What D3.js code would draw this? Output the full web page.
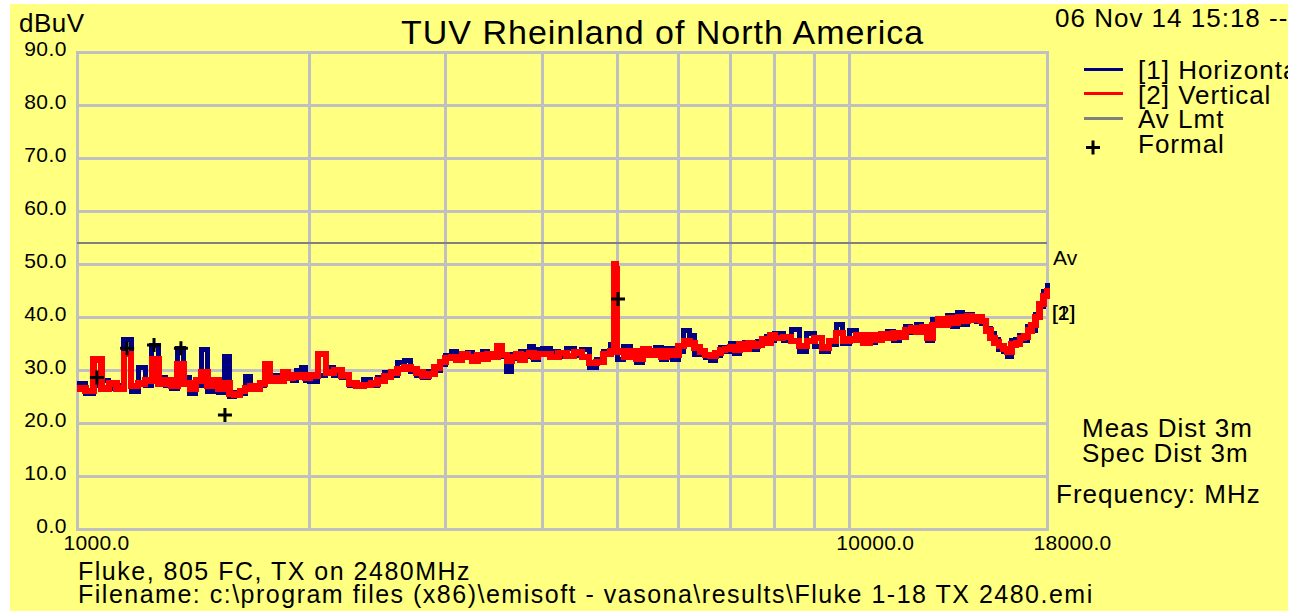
<!DOCTYPE html>
<html>
<head>
<meta charset="utf-8">
<script src="https://cdn.jsdelivr.net/npm/d3@7"></script>
<style>
  body { margin: 0; background: #fff; }
  svg { display: block; font-family: "Liberation Sans", Arial, sans-serif; }
</style>
</head>
<body>
<svg id="chart" width="1299" height="611"></svg>
<script>
// DATA
const freqMHz = [
  1000, 1025, 1050, 1075, 1100, 1125, 1150, 1175, 1200, 1225, 1250, 1275, 1300, 1325, 1350, 1375, 1400, 1425, 1450, 1475,
  1500, 1525, 1550, 1575, 1600, 1625, 1650, 1675, 1700, 1725, 1750, 1775, 1800, 1825, 1850, 1875, 1900, 1925, 1950, 1975,
  2000, 2050, 2100, 2150, 2200, 2250, 2300, 2350, 2400, 2450, 2500, 2550, 2600, 2650, 2700, 2750, 2800, 2850, 2900, 2950,
  3000, 3050, 3100, 3150, 3200, 3250, 3300, 3350, 3400, 3450, 3500, 3550, 3600, 3650, 3700, 3750, 3800, 3850, 3900, 3950,
  4000, 4100, 4200, 4300, 4400, 4500, 4600, 4700, 4800, 4900, 4950, 4980,
  5000, 5100, 5200, 5300, 5400, 5500, 5600, 5700, 5800, 5900, 6000, 6100, 6200, 6300, 6400, 6500, 6600, 6700, 6800, 6900,
  7000, 7100, 7200, 7300, 7400, 7500, 7600, 7700, 7800, 7900,
  8000, 8200, 8400, 8600, 8800, 9000, 9200, 9400, 9600, 9800, 10000, 10200, 10400, 10600, 10800, 11000, 11200, 11400, 11600, 11800,
  12000, 12200, 12400, 12600, 12800, 13000, 13200, 13400, 13600, 13800, 14000, 14200, 14400, 14600, 14800, 15000, 15200, 15400, 15600, 15800,
  16000, 16200, 16400, 16600, 16800, 17000, 17200, 17400, 17600, 17800, 18000,
];

// [1] Horizontal, dBuV
const horizontal = [
  27.5, 25.5, 27, 28, 26.5, 27, 35.8, 26, 30.4, 27, 34.7, 28.5, 27, 26.5, 34, 28.5, 25.5, 27, 33.8, 26,
  27.5, 25.8, 32.6, 25, 25.8, 25.5, 28.7, 26.5, 27, 27, 28, 28.5, 29, 28.8, 28.5, 29.2, 28, 30, 30.4, 28,
  27.8, 29, 30.5, 29, 28.5, 27, 26.8, 28.2, 27, 28.5, 29.5, 29, 31.5, 31.8, 29.8, 29, 28.5, 29.8, 30, 31,
  32.8, 33.5, 31.8, 32.5, 33.3, 32, 32.3, 33.5, 32.5, 33.2, 32.8, 32.5, 29.8, 33, 32.2, 33.5, 32.5, 34.5, 32, 33.8,
  34, 33.5, 32.5, 34, 32.8, 33.8, 30.5, 32, 33.5, 34.8, 46, 47,
  32, 34.5, 32.5, 31.5, 33, 33.6, 34.2, 32, 34, 32, 33.5, 37.5, 36.5, 33, 33.2, 32.3, 31.8, 32.8, 34.3, 33.5,
  35, 33.2, 34.3, 35.2, 34.5, 33.8, 35.3, 35, 36.3, 35.5,
  36.8, 35.5, 37.6, 33.5, 36.8, 34.5, 33.5, 34.8, 38.5, 35, 37.5, 35.5, 36, 35.2, 36.2, 36, 37.2, 35.5, 36.8, 38.2,
  37, 38.5, 37.5, 35.5, 39.5, 39, 39, 40.2, 38.3, 40.8, 38.5, 40.5, 40, 39.2, 38.8, 37.8, 36.8, 35.8, 33.8, 33.5,
  32.5, 35.5, 35.8, 36.5, 35.5, 38.2, 37.5, 40.5, 42, 44.8, 46.5,
];

// [2] Vertical, dBuV
const vertical = [
  26.5, 26, 32, 26.5, 27.5, 26.5, 33, 27, 27.5, 28, 32, 27.5, 28, 27, 31, 27.5, 26.5, 28, 29.5, 27,
  28, 26.5, 27.5, 25.5, 25.3, 26, 26.5, 27, 26.5, 27.5, 31, 28, 28.5, 28, 29.5, 28.5, 29, 28.8, 29, 28.5,
  29, 33, 29.5, 30, 29, 27.5, 27, 27.2, 27.5, 28, 28.8, 29.5, 30.2, 30.5, 30.2, 29.5, 29, 29.2, 30.5, 31.5,
  32.3, 32.5, 32, 33, 32.5, 31.8, 32.8, 32.2, 33, 32.5, 34.5, 32.8, 31.8, 32.5, 33, 32, 32.8, 33.2, 32.5, 33,
  33, 32.5, 33.2, 32.6, 33.3, 32.5, 31.3, 31.5, 33, 33.5, 50, 49,
  33.5, 32.5, 33.5, 32.2, 34, 32.8, 33.6, 32.5, 33.5, 32.8, 34.5, 35.5, 35, 34.2, 33.5, 32.8, 32.6, 33.2, 33.8, 34,
  34.2, 33.8, 34.8, 34, 35, 34.5, 34.8, 35.8, 35.2, 36.5,
  36, 36.2, 35.5, 34.5, 35.5, 36, 34.2, 35.5, 37, 35.5, 35.8, 36.5, 35.2, 36.5, 35.8, 36.8, 36, 37, 36.3, 37.5,
  37.8, 37.2, 38, 36, 38.5, 39.5, 38.5, 39.8, 39, 40, 39.2, 40.2, 39.5, 40, 39.2, 37.5, 36, 35.2, 34.5, 34,
  33.5, 34.8, 35, 36, 36.3, 37.5, 38.5, 40, 42.5, 44, 45.5,
];

const avLimit = 54;
const formalFreq = [1061, 1161, 1258, 1363, 1554, 5013];
const formalLevel = [28.6, 34.1, 34.7, 34.1, 21.5, 43.4];

const yTicks = [0, 10, 20, 30, 40, 50, 60, 70, 80, 90];
const xTickLabels = [1000, 10000, 18000];
const xGrid = [2000, 3000, 4000, 5000, 6000, 7000, 8000, 9000, 10000];
const legendItems = ["[1] Horizontal", "[2] Vertical", "Av Lmt", "Formal"];

// CANVAS SETUP
const canvas = d3.select("#chart");
const margin = { top: 52, right: 252, bottom: 82, left: 77 };
const width = canvas.attr("width") - margin.left - margin.right,
  height = canvas.attr("height") - margin.top - margin.bottom;

const x = d3.scaleLog().domain([1000, 18000]).range([0, width]);
const y = d3.scaleLinear().domain([0, 90]).range([height, 0]);

canvas
  .append("clipPath")
  .attr("id", "panelClip")
  .append("rect")
  .attr("x", 10)
  .attr("y", 4)
  .attr("width", 1278)
  .attr("height", 607);

const panel = canvas.append("g").attr("clip-path", "url(#panelClip)");

panel
  .append("rect")
  .attr("x", 10)
  .attr("y", 4)
  .attr("width", 1278)
  .attr("height", 607)
  .attr("fill", "#ffff80");

const g = panel
  .append("g")
  .attr("transform", `translate(${margin.left},${margin.top})`);

// GRID
g.append("g")
  .selectAll("line")
  .data(yTicks.slice(1, -1))
  .join("line")
  .attr("x1", 0)
  .attr("x2", width)
  .attr("y1", (d) => y(d))
  .attr("y2", (d) => y(d));

g.append("g")
  .selectAll("line")
  .data(xGrid)
  .join("line")
  .attr("x1", (d) => x(d))
  .attr("x2", (d) => x(d))
  .attr("y1", 0)
  .attr("y2", height);

g.selectAll("line")
  .attr("stroke", "#c0c0c0")
  .attr("stroke-width", 3)
  .attr("shape-rendering", "crispEdges");

g.append("rect")
  .attr("width", width)
  .attr("height", height)
  .attr("fill", "none")
  .attr("stroke", "#c0c0c0")
  .attr("stroke-width", 3)
  .attr("shape-rendering", "crispEdges");

// AXES
const yAxis = g
  .append("g")
  .call(
    d3
      .axisLeft(y)
      .tickValues(yTicks)
      .tickFormat(d3.format(".1f"))
      .tickSize(0)
      .tickPadding(10)
  );
yAxis.select(".domain").remove();
yAxis
  .selectAll("text")
  .attr("dy", 3)
  .attr("fill", "#000")
  .style("font-size", "21px")
  .style("letter-spacing", "0.5px")
  .style("font-family", "Liberation Sans, Arial, sans-serif");

const xAxis = g
  .append("g")
  .attr("transform", `translate(0,${height})`)
  .call(
    d3
      .axisBottom(x)
      .tickValues(xTickLabels)
      .tickFormat(d3.format(".1f"))
      .tickSize(0)
  );
xAxis.select(".domain").remove();
xAxis
  .selectAll("text")
  .attr("y", 21)
  .attr("dy", 0)
  .attr("dx", -14)
  .attr("text-anchor", "start")
  .attr("fill", "#000")
  .style("font-size", "21px")
  .style("letter-spacing", "0.3px")
  .style("font-family", "Liberation Sans, Arial, sans-serif");

// LIMIT LINE
g.append("line")
  .attr("x1", 0)
  .attr("x2", width)
  .attr("y1", y(avLimit))
  .attr("y2", y(avLimit))
  .attr("stroke", "#808080")
  .attr("stroke-width", 2)
  .attr("shape-rendering", "crispEdges");

// TRACES
const line = d3
  .line()
  .x((d) => x(d[0]))
  .y((d) => y(d[1]))
  .curve(d3.curveStepAfter);

g.append("path")
  .datum(d3.zip(freqMHz, horizontal))
  .attr("d", line)
  .attr("fill", "none")
  .attr("stroke", "#000080")
  .attr("stroke-width", 5)
  .attr("stroke-linejoin", "miter")
  .attr("shape-rendering", "crispEdges");

g.append("path")
  .datum(d3.zip(freqMHz, vertical))
  .attr("d", line)
  .attr("fill", "none")
  .attr("stroke", "#ff0000")
  .attr("stroke-width", 6.5)
  .attr("stroke-linejoin", "miter")
  .attr("shape-rendering", "crispEdges");

// FORMAL MARKERS
const plus = "M-7,0H7M0,-7V7";

g.append("g")
  .selectAll("path")
  .data(d3.zip(formalFreq, formalLevel))
  .join("path")
  .attr("transform", (d) => `translate(${x(d[0])},${y(d[1])})`)
  .attr("d", plus)
  .attr("stroke", "#000")
  .attr("stroke-width", 3);

// TEXTS
function label(txt, px, py, size, spacing) {
  return panel
    .append("text")
    .attr("x", px)
    .attr("y", py)
    .attr("fill", "#000")
    .style("font-size", size + "px")
    .style("letter-spacing", spacing + "px")
    .text(txt);
}

label("TUV Rheinland of North America", 401, 44, 34, 1);
label("dBuV", 19, 32, 26, 0.5);
label("06 Nov 14 15:18 --", 1055, 27, 26, 1);
label("Av", margin.left + width + 6, margin.top + y(avLimit) + 22, 21, 0);
label("[1]", margin.left + width + 5, 320, 21, 0);
label("[2]", margin.left + width + 5, 320, 21, 0);
label("Meas Dist 3m", 1082, 437, 26, 1);
label("Spec Dist 3m", 1082, 462, 26, 1);
label("Frequency: MHz", 1056, 503, 26, 1);
label("Fluke, 805 FC, TX on 2480MHz", 78, 580, 25, 1.5);
label(
  "Filename: c:\\program files (x86)\\emisoft - vasona\\results\\Fluke 1-18 TX 2480.emi",
  78,
  603,
  25,
  1.5
);

// LEGEND
const legend = panel.append("g").attr("transform", "translate(1084,69)");
const legendColors = ["#000080", "#ff0000", "#808080"];

legendItems.forEach(function (name, i) {
  const row = legend.append("g").attr("transform", `translate(0,${i * 24.5})`);
  if (i < legendColors.length) {
    row
      .append("line")
      .attr("x1", 0)
      .attr("x2", 39)
      .attr("stroke", legendColors[i])
      .attr("stroke-width", 3)
      .attr("shape-rendering", "crispEdges");
  } else {
    row
      .append("path")
      .attr("transform", "translate(9,5)")
      .attr("d", plus)
      .attr("stroke", "#000")
      .attr("stroke-width", 3);
  }
  row
    .append("text")
    .attr("x", 54)
    .attr("y", 10)
    .attr("fill", "#000")
    .style("font-size", "26px")
    .style("letter-spacing", "1px")
    .text(name);
});
</script>
</body>
</html>
